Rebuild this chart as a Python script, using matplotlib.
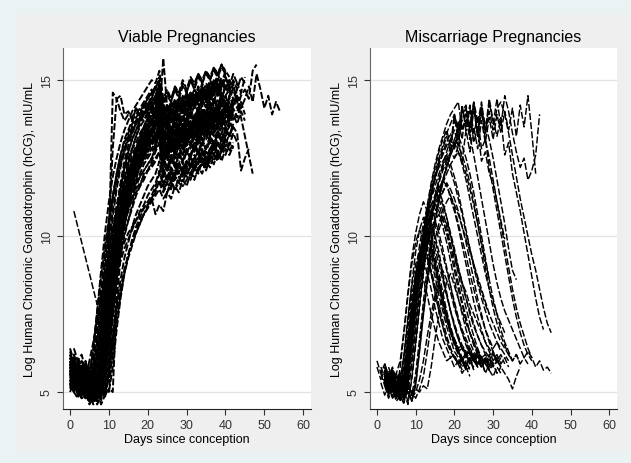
import numpy as np
import matplotlib.pyplot as plt
from matplotlib.patches import Rectangle

plt.rcParams['font.family'] = ['Liberation Sans', 'DejaVu Sans']
plt.rcParams['lines.scale_dashes'] = False

# log hCG values are stored in tenths, one value per day from the start day
viable_start = [0, 0, 1, 0, 2, 0, 1, 0, 3, 0, 1, 0, 2, 0, 1, 0, 0, 2, 0, 0, 1,
                0, 0, 2, 0, 1, 0, 0, 1, 0, 0, 2, 0, 0, 0, 1, 0, 0, 2, 0, 1, 0,
                0, 1, 0, 0, 2, 0, 0, 1, 0, 2,
                0, 1, 0, 0, 2, 0, 1, 0, 0, 1, 0, 0, 2, 0]
viable_hcg = [
    [57, 53, 55, 50, 54, 52, 49, 53, 56, 64, 77, 86, 95, 101, 108, 114, 117, 122, 124, 129, 131, 134, 137, 140, 131, 127, 132, 130, 128, 133, 131, 135, 132, 134, 138, 135, 137, 140, 139, 136, 141, 143, 140],
    [61, 58, 55, 57, 60, 54, 56, 53, 51, 55, 67, 80, 91, 99, 104, 111, 115, 118, 123, 125, 128, 133, 131, 138, 130, 134, 129, 131, 135, 133, 136, 134, 139, 137, 140, 138, 142, 144, 141, 146, 143],
    [54, 56, 51, 50, 53, 49, 55, 63, 71, 80, 90, 97, 104, 109, 112, 118, 121, 126, 125, 130, 133, 129, 134, 124, 127, 125, 130, 128, 126, 131, 129, 133, 130, 135, 134, 132, 137, 135, 138],
    [63, 59, 60, 56, 58, 55, 57, 52, 54, 53, 50, 64, 83, 95, 103, 110, 116, 119, 124, 126, 130, 133, 136, 139, 132, 128, 133, 136, 131, 135, 138, 134, 137, 140, 136, 139, 142, 140, 144, 141, 145, 147, 144],
    [55, 52, 50, 53, 58, 66, 74, 83, 90, 98, 103, 109, 114, 117, 121, 124, 127, 131, 129, 134, 137, 140, 132, 128, 131, 134, 130, 133, 136, 135, 132, 137, 139, 136, 140, 138, 141],
    [52, 55, 50, 48, 51, 47, 50, 49, 53, 60, 71, 80, 89, 95, 101, 105, 110, 114, 116, 120, 121, 124, 127, 130, 119, 122, 118, 121, 124, 120, 123, 126, 122, 125, 128, 124, 127, 130, 126, 129, 132],
    [64, 60, 62, 57, 59, 61, 55, 54, 57, 70, 83, 95, 104, 112, 118, 123, 128, 131, 135, 137, 140, 143, 147, 138, 136, 141, 139, 143, 140, 142, 145, 141, 144, 147, 143, 146, 149, 145, 148, 150],
    [56, 58, 54, 51, 55, 60, 66, 73, 80, 86, 92, 98, 102, 107, 110, 115, 118, 120, 124, 126, 128, 131, 133, 136, 127, 125, 129, 127, 131, 128, 133, 130, 132, 135, 131, 134, 137, 133, 136, 139],
    [53, 51, 54, 49, 52, 50, 59, 73, 85, 96, 102, 108, 113, 117, 121, 126, 128, 132, 134, 137, 139, 157, 141, 133, 136, 131, 134, 138, 135, 137, 140, 136, 139, 142, 138, 141, 144, 140, 143],
    [59, 56, 57, 52, 55, 53, 56, 50, 52, 49, 58, 73, 87, 97, 106, 112, 118, 122, 127, 130, 134, 136, 139, 142, 134, 131, 135, 132, 136, 134, 139, 135, 138, 141, 137, 140, 143, 139, 142, 145, 141, 144, 147, 143, 146],
    [51, 53, 49, 50, 46, 48, 52, 61, 71, 80, 87, 94, 100, 105, 109, 112, 116, 119, 121, 123, 125, 128, 130, 122, 118, 121, 119, 123, 120, 122, 125, 121, 124, 127, 123, 126, 129, 125, 128, 131, 127, 130],
    [62, 59, 57, 55, 58, 52, 54, 53, 57, 66, 78, 89, 98, 105, 112, 117, 122, 126, 130, 133, 136, 138, 141, 145, 137, 135, 139, 136, 140, 143, 139, 142, 145, 141, 144, 147, 143, 146, 149, 145, 148, 150, 147, 149, 146, 151],
    [56, 54, 57, 52, 51, 50, 54, 49, 51, 50, 79, 93, 103, 110, 116, 121, 125, 128, 131, 134, 136, 141, 130, 127, 131, 129, 133, 130, 134, 132, 136, 133, 137, 135, 139, 136, 140, 138, 142],
    [55, 53, 51, 54, 50, 52, 48, 50, 52, 61, 74, 85, 96, 104, 110, 115, 120, 123, 127, 130, 132, 135, 137, 140, 128, 131, 127, 130, 133, 129, 132, 135, 131, 134, 137, 133, 136, 139, 135, 138, 141, 137, 140],
    [59, 57, 55, 58, 53, 56, 54, 64, 76, 87, 96, 103, 109, 114, 119, 122, 126, 130, 132, 135, 138, 140, 144, 133, 131, 135, 133, 137, 134, 136, 139, 135, 138, 141, 137, 140, 143, 139, 142, 145, 141, 144, 147],
    [53, 50, 48, 52, 49, 47, 50, 57, 68, 79, 88, 95, 102, 108, 113, 117, 121, 124, 127, 130, 132, 134, 136, 140, 129, 127, 131, 128, 132, 130, 134, 131, 135, 133, 137, 134, 138, 136, 140, 137, 141],
    [57, 55, 53, 56, 52, 54, 50, 52, 51, 48, 57, 68, 78, 86, 93, 98, 103, 107, 110, 113, 116, 118, 120, 124, 116, 114, 118, 115, 119, 117, 121, 118, 122, 120, 124, 121, 125, 123, 127, 124, 128, 126, 129],
    [60, 56, 58, 54, 64, 76, 87, 97, 105, 112, 118, 123, 127, 131, 134, 137, 139, 142, 144, 146, 148, 143, 141, 145, 143, 147, 144, 148, 146, 150, 147, 151, 149, 152, 150, 153, 151, 154, 152],
    [54, 52, 55, 50, 51, 49, 52, 48, 51, 60, 73, 85, 95, 103, 109, 115, 119, 123, 126, 129, 132, 134, 137, 140, 130, 133, 129, 132, 135, 131, 134, 137, 133, 136, 139, 135, 138, 141, 137, 140, 143, 139, 142, 145, 141, 144, 148, 143, 152, 147, 141, 145, 139, 143, 140],
    [58, 54, 56, 53, 55, 51, 53, 50, 54, 63, 75, 86, 95, 103, 109, 114, 118, 122, 125, 128, 131, 133, 135, 139, 130, 128, 132, 129, 133, 131, 135, 132, 136, 134, 138, 135, 139, 137, 141, 138, 142, 140, 144, 141, 145, 147, 144, 153, 155],
    [53, 51, 50, 49, 52, 48, 51, 47, 58, 70, 81, 90, 98, 104, 109, 113, 117, 120, 123, 125, 127, 129, 133, 124, 121, 125, 122, 126, 123, 127, 125, 129, 126, 130, 128, 131, 129, 133, 130, 134, 132, 135, 133, 121, 125, 128],
    [61, 58, 59, 56, 57, 54, 55, 53, 56, 65, 77, 88, 98, 106, 113, 119, 124, 128, 132, 135, 138, 141, 143, 150, 141, 139, 143, 140, 144, 142, 146, 143, 147, 145, 149, 146, 150, 148, 152, 149, 153, 151],
    [52, 54, 51, 49, 52, 48, 49, 47, 50, 59, 71, 83, 93, 101, 108, 114, 119, 123, 127, 131, 134, 137, 139, 142, 131, 129, 133, 130, 134, 131, 135, 132, 136, 133, 137, 134, 138, 136, 140, 137, 141, 138, 142],
    [58, 55, 57, 53, 54, 61, 69, 76, 82, 87, 91, 95, 98, 101, 103, 105, 107, 109, 110, 112, 107, 110, 108, 114, 112, 116, 114, 118, 116, 120, 118, 122, 120, 124, 122, 126, 124, 128, 126, 130, 128],
    [57, 54, 56, 52, 53, 51, 52, 55, 58, 66, 98, 146, 144, 145, 139, 140, 137, 141, 138, 142, 140, 143, 141, 145, 135, 137, 134, 138, 135, 139, 136, 140, 137, 141],
    [60, 57, 59, 55, 56, 54, 62, 72, 84, 102, 128, 144, 140, 137, 139, 138, 141, 139, 142, 141, 144, 148, 137, 139, 136, 141, 138, 142, 140, 144, 141, 145, 143, 146, 144],
    [56, 53, 55, 51, 52, 50, 51, 49, 51, 60, 72, 83, 92, 99, 104, 108, 112, 115, 117, 119, 121, 122, 124, 127, 118, 117, 120, 118, 121, 119, 122, 120, 123, 121, 125, 122, 126, 124, 127, 125],
    [59, 56, 58, 54, 55, 52, 53, 51, 55, 66, 79, 91, 101, 110, 117, 123, 128, 132, 136, 139, 142, 145, 147, 151, 143, 146, 143, 148, 145, 149, 146, 150, 148, 152, 149, 153, 150, 154, 152, 155, 152],
    [57, 54, 55, 52, 53, 51, 52, 50, 55, 67, 81, 93, 102, 109, 115, 120, 124, 128, 131, 133, 136, 139, 131, 129, 133, 130, 134, 132, 136, 133, 137, 135, 139, 136, 140, 138, 142, 139, 143, 141, 145, 142, 146],
    [64, 60, 61, 58, 59, 56, 57, 66, 77, 87, 95, 102, 108, 113, 117, 121, 124, 127, 130, 132, 134, 137, 139, 144, 129, 132, 128, 131, 134, 130, 133, 136, 132, 135, 138, 134, 137, 140, 136, 139, 142, 138],
    [52, 50, 51, 48, 49, 47, 48, 46, 49, 58, 70, 81, 91, 99, 106, 112, 117, 121, 125, 128, 131, 133, 136, 139, 126, 124, 128, 125, 129, 126, 130, 128, 132, 129, 133, 131, 135, 132, 136, 133, 137, 135, 139, 136, 140, 137],
    [55, 52, 54, 51, 53, 50, 60, 72, 84, 94, 102, 109, 115, 120, 124, 128, 131, 134, 137, 139, 142, 146, 136, 134, 138, 135, 139, 137, 141, 138, 142, 140, 144, 141, 145, 143, 147, 144, 148, 145, 149, 143, 138, 132, 126, 120],
    [61, 58, 59, 56, 57, 55, 56, 53, 55, 52, 61, 76, 89, 100, 108, 115, 121, 126, 130, 133, 136, 139, 141, 145, 136, 134, 138, 135, 139, 137, 141, 138, 142, 140, 144, 141, 145, 143, 147, 144, 148, 146, 150, 147, 151, 149],
    [54, 51, 52, 49, 51, 48, 50, 47, 52, 63, 75, 86, 95, 102, 108, 113, 117, 120, 123, 126, 128, 130, 132, 136, 127, 125, 129, 126, 130, 128, 132, 129, 133, 131, 135, 132, 136, 134, 138, 135, 139, 137],
    [58, 61, 56, 57, 59, 55, 58, 62, 70, 79, 88, 96, 103, 109, 115, 119, 123, 127, 129, 132, 135, 137, 139, 142, 133, 136, 132, 135, 138, 134, 137, 140, 136, 139, 142, 138, 141, 144, 140, 143],
    [55, 53, 56, 52, 50, 53, 51, 56, 64, 75, 86, 95, 103, 109, 114, 119, 123, 126, 129, 131, 134, 136, 138, 128, 126, 130, 127, 131, 128, 132, 130, 128, 133, 131, 135, 132, 136, 134, 138, 135, 139, 137],
    [50, 53, 49, 51, 48, 50, 46, 49, 54, 63, 74, 84, 93, 100, 106, 111, 116, 119, 122, 125, 127, 130, 132, 134, 125, 122, 126, 123, 127, 124, 128, 126, 130, 127, 131, 128, 132, 130, 134, 131, 135, 132, 136],
    [60, 57, 58, 55, 56, 53, 54, 51, 50, 57, 71, 84, 95, 104, 111, 117, 122, 127, 131, 135, 138, 141, 144, 147, 139, 137, 141, 138, 142, 140, 144, 141, 145, 143, 147, 144, 148, 146, 150, 147, 151, 148, 152, 149],
    [57, 54, 55, 52, 53, 57, 65, 74, 83, 92, 100, 106, 112, 117, 121, 125, 128, 131, 134, 136, 138, 133, 131, 135, 132, 136, 134, 138, 135, 139, 137, 141, 138, 142, 140, 144, 141, 145, 142],
    [56, 53, 54, 52, 55, 51, 53, 52, 50, 53, 62, 76, 88, 98, 106, 112, 117, 121, 125, 128, 131, 134, 137, 140, 132, 129, 131, 127, 130, 133, 129, 132, 135, 131, 134, 137, 133, 136, 139, 135, 138, 141, 137, 140, 143, 139],
    [59, 56, 54, 57, 52, 55, 53, 60, 70, 81, 91, 99, 106, 112, 117, 122, 126, 129, 132, 135, 137, 139, 143, 134, 131, 133, 129, 132, 135, 131, 134, 137, 133, 136, 139, 135, 138, 141, 137],
    [53, 55, 52, 54, 50, 51, 49, 52, 58, 67, 78, 88, 96, 103, 109, 113, 117, 120, 122, 124, 126, 128, 130, 133, 121, 119, 122, 120, 123, 121, 124, 122, 125, 123, 127, 124, 128, 126, 130, 127, 131, 129, 133, 130],
    # fast risers
    [57, 53, 55, 51, 54, 50, 52, 60, 72, 86, 98, 108, 117, 123, 128, 132, 135, 137, 139, 141, 143, 142, 145, 148, 140, 142, 139, 143, 141, 144, 142, 145, 143, 146, 144, 147, 145, 148, 146, 149, 147, 150],
    [60, 56, 58, 54, 57, 53, 63, 76, 90, 102, 112, 120, 126, 131, 134, 137, 139, 141, 143, 145, 147, 144, 149, 139, 142, 140, 144, 141, 145, 143, 146, 144, 148, 145, 149, 147, 150, 148],
    [55, 51, 54, 50, 53, 49, 52, 50, 58, 71, 85, 98, 108, 116, 122, 127, 131, 134, 137, 139, 141, 143, 145, 147, 138, 141, 138, 142, 140, 143, 141, 144, 142, 146, 143, 147, 145, 148, 146, 150, 148],
    [62, 58, 60, 56, 59, 55, 64, 76, 89, 101, 111, 119, 125, 130, 134, 137, 140, 142, 144, 146, 148, 150, 149, 153, 144, 147, 144, 148, 146, 150, 147, 151, 149, 152, 150, 153, 151, 154, 152, 155, 153],
    [56, 52, 55, 51, 58, 69, 81, 93, 104, 113, 120, 126, 130, 133, 136, 138, 140, 142, 144, 146, 143, 139, 142, 140, 143, 141, 145, 143, 146, 144, 147, 145, 148, 146, 149],
    # slow risers
    [56, 52, 54, 50, 53, 49, 51, 48, 50, 49, 56, 66, 75, 83, 89, 94, 98, 102, 105, 107, 109, 111, 113, 115, 112, 114, 116, 115, 117, 116, 118, 120, 119, 121, 123, 122, 124, 126, 125, 127, 129, 128],
    [59, 55, 57, 53, 56, 52, 54, 50, 53, 51, 50, 58, 70, 80, 88, 94, 99, 103, 106, 109, 111, 113, 116, 120, 117, 119, 118, 121, 120, 122, 124, 123, 125, 127, 126, 128, 130, 129, 131, 133, 132, 134],
    [53, 50, 52, 48, 51, 47, 50, 46, 49, 57, 67, 76, 83, 89, 94, 98, 101, 104, 107, 109, 112, 114, 118, 115, 117, 116, 119, 118, 121, 120, 122, 124, 123, 125, 127, 126, 128, 130, 129, 131],
    [58, 54, 56, 52, 55, 51, 53, 56, 63, 70, 77, 83, 88, 92, 96, 99, 102, 105, 108, 110, 113, 115, 117, 121, 116, 119, 117, 120, 122, 121, 124, 123, 125, 127, 126, 129, 128, 130, 132, 131, 133, 135, 134],
    [55, 51, 54, 50, 53, 49, 52, 50, 54, 62, 72, 81, 88, 93, 97, 101, 104, 107, 110, 112, 115, 117, 114, 117, 115, 119, 117, 121, 119, 123, 121, 125, 123, 127, 125, 129, 127, 131, 129, 133, 131],
    # more central series
    [55, 57, 52, 54, 51, 56, 53, 58, 68, 80, 92, 102, 110, 116, 121, 125, 128, 130, 133, 135, 134, 138, 136, 141, 133, 135, 131, 134, 132, 136, 134, 133, 137, 135, 138, 136, 140, 138, 141, 139, 142],
    [58, 55, 53, 56, 51, 54, 57, 65, 76, 88, 99, 107, 114, 119, 122, 126, 129, 127, 131, 133, 130, 135, 137, 129, 127, 131, 128, 130, 133, 131, 129, 134, 132, 136, 133, 137, 135, 139, 136, 140, 138],
    [53, 50, 54, 51, 49, 52, 50, 53, 60, 70, 82, 93, 102, 109, 114, 118, 120, 124, 122, 127, 129, 131, 128, 134, 124, 126, 123, 127, 125, 128, 126, 130, 127, 131, 129, 133, 130, 134, 132, 135, 133, 137, 134],
    [60, 56, 59, 55, 57, 54, 61, 71, 83, 95, 105, 113, 119, 124, 128, 131, 134, 136, 138, 137, 140, 142, 141, 146, 137, 139, 136, 140, 138, 142, 139, 143, 141, 145, 142, 146, 144, 148, 145, 149, 147, 150, 148],
    [54, 57, 52, 55, 50, 53, 51, 62, 75, 88, 98, 106, 112, 117, 121, 124, 128, 126, 130, 133, 131, 136, 130, 132, 128, 131, 134, 130, 133, 136, 132, 135, 138, 134, 137, 140, 136, 139, 142, 138, 141],
    [57, 54, 52, 55, 51, 53, 49, 51, 55, 65, 78, 90, 100, 108, 114, 119, 123, 126, 129, 131, 133, 132, 136, 139, 129, 133, 130, 128, 132, 135, 131, 134, 137, 133, 136, 139, 135, 138, 141, 137, 140, 143],
    [62, 58, 60, 56, 58, 54, 59, 69, 81, 94, 106, 115, 122, 127, 131, 133, 136, 138, 140, 139, 142, 144, 140, 137, 141, 139, 143, 141, 144, 142, 146, 143, 147, 145, 148, 146, 150, 147, 151],
    [51, 54, 50, 52, 48, 50, 47, 50, 48, 55, 66, 78, 89, 98, 105, 111, 115, 119, 122, 125, 127, 129, 131, 133, 123, 121, 125, 122, 126, 124, 127, 125, 129, 126, 130, 128, 132, 129, 133, 131, 134, 132, 136],
    [56, 53, 55, 52, 54, 50, 52, 57, 66, 77, 88, 98, 106, 112, 117, 120, 124, 127, 126, 130, 132, 134, 136, 138, 128, 130, 127, 131, 129, 133, 130, 134, 132, 136, 133, 137, 135, 139, 136, 140],
    [55, 52, 54, 50, 53, 49, 51, 54, 62, 73, 85, 96, 105, 111, 116, 120, 123, 126, 128, 130, 133, 135, 138, 127, 125, 129, 126, 130, 128, 132, 129, 133, 131, 135, 132, 136, 134, 138, 135, 139, 137, 141, 138, 142],
    [59, 62, 57, 58, 55, 57, 53, 55, 58, 68, 82, 95, 106, 115, 122, 127, 131, 134, 137, 139, 141, 143, 142, 147, 138, 141, 137, 140, 143, 139, 142, 145, 141, 144, 147, 143, 146, 149, 145, 148, 151, 147, 150],
    [54, 51, 53, 50, 52, 48, 50, 48, 52, 58, 67, 77, 86, 94, 100, 105, 109, 113, 116, 118, 121, 123, 125, 127, 120, 118, 122, 119, 123, 121, 124, 122, 126, 123, 127, 125, 128, 126, 130, 127, 131, 129],
    [57, 54, 56, 52, 55, 51, 56, 67, 80, 92, 103, 111, 118, 124, 128, 132, 135, 137, 139, 141, 143, 139, 144, 136, 140, 137, 141, 139, 143, 140, 144, 142, 146, 143, 147, 145, 149, 146],
    [58, 55, 57, 54, 56, 52, 55, 51, 57, 69, 83, 97, 108, 117, 124, 129, 133, 136, 138, 140, 142, 144, 143, 148, 140, 138, 142, 139, 143, 141, 145, 142, 146, 144, 148, 145, 149, 147, 151, 148, 152],
]
# one viable series measured only on a few days
viable_sparse_days = [1, 7, 9, 11, 13, 15, 17, 19, 21, 23, 25, 27, 29, 31, 33, 35, 37]
viable_sparse_hcg = [108, 78, 84, 96, 105, 112, 117, 121, 125, 132, 121, 125, 128, 130, 133, 135, 138]

miscarriage_start = [2, 3, 2, 2, 1, 2, 3, 2, 0, 2, 2, 3, 2, 2, 1, 2, 2, 3, 2, 2, 2, 2,
                     3, 2, 2, 2, 2, 2, 3, 2, 2, 2, 0, 2, 3, 2, 2, 2, 2, 2, 2, 1, 2,
                     2, 1, 2]
miscarriage_hcg = [
    [57, 53, 56, 52, 54, 62, 74, 84, 91, 95, 97, 93, 88, 82, 76, 71, 67, 64, 61, 59, 60, 57, 58],
    [54, 50, 53, 51, 60, 71, 81, 88, 94, 99, 101, 96, 90, 84, 78, 73, 69, 66, 63, 61, 62, 59, 60, 58],
    [59, 55, 58, 54, 56, 53, 63, 75, 85, 92, 96, 98, 94, 89, 84, 78, 73, 69, 66, 63, 64, 61, 63, 60, 62, 59],
    [53, 49, 52, 48, 51, 58, 68, 77, 84, 89, 92, 88, 83, 77, 72, 67, 64, 61, 62, 59, 61, 58],
    [56, 52, 55, 51, 53, 50, 56, 67, 78, 87, 94, 99, 102, 97, 92, 86, 80, 75, 70, 67, 64, 65, 62, 64, 61, 63, 60],
    [55, 51, 54, 50, 53, 49, 60, 72, 83, 91, 97, 101, 104, 100, 95, 88, 82, 76, 71, 67, 64, 62, 63, 60, 62, 58, 61, 57, 59],
    [52, 49, 51, 48, 57, 67, 77, 85, 90, 86, 81, 75, 70, 66, 63, 60, 61, 58, 60, 57],
    [58, 54, 57, 53, 55, 52, 58, 70, 81, 89, 95, 99, 96, 91, 85, 79, 74, 70, 66, 63, 60, 62, 59, 61, 58, 60, 56],
    [58, 54, 56, 52, 55, 51, 53, 50, 57, 68, 79, 88, 95, 100, 103, 105, 101, 96, 90, 84, 78, 73, 69, 65, 62, 60, 62, 59, 61, 58, 63, 60],
    [55, 51, 53, 49, 52, 50, 55, 65, 76, 86, 93, 98, 102, 105, 107, 103, 98, 92, 86, 80, 75, 70, 66, 63, 61, 58, 60, 57, 59, 56, 58],
    [53, 50, 52, 49, 51, 48, 57, 69, 81, 91, 99, 105, 110, 113, 116, 114, 117, 112, 108, 103, 97, 91, 85, 79, 74, 70, 66, 63, 60, 62, 59, 61, 58],
    [56, 52, 55, 51, 53, 61, 73, 85, 94, 101, 106, 110, 112, 115, 111, 106, 100, 94, 88, 82, 77, 72, 68, 64, 61, 59, 62, 58, 60],
    [55, 51, 54, 50, 52, 49, 54, 64, 76, 87, 96, 103, 108, 112, 115, 118, 116, 113, 109, 104, 99, 94, 88, 83, 78, 74, 70, 67, 64, 66, 63],
    [58, 54, 57, 52, 55, 51, 56, 68, 80, 90, 98, 104, 108, 111, 113, 110, 106, 101, 96, 90, 85, 80, 76, 72, 68, 65, 62, 60, 63, 59, 61],
    [53, 49, 52, 48, 50, 47, 55, 66, 77, 86, 93, 99, 103, 107, 110, 112, 114, 117, 115, 112, 108, 103, 98, 92, 86, 80, 75, 70, 66, 63, 60, 62, 59],
    [55, 51, 53, 49, 52, 48, 52, 62, 73, 83, 92, 99, 105, 110, 114, 117, 120, 123, 125, 127, 124, 120, 115, 110, 104, 98, 92, 86, 80, 75, 70, 66, 63, 60, 62, 59],
    [57, 53, 55, 51, 54, 50, 59, 71, 82, 92, 100, 107, 112, 116, 120, 123, 126, 128, 130, 127, 123, 118, 112, 106, 100, 94, 88, 83, 79, 75, 72, 69],
    [52, 48, 51, 47, 50, 46, 55, 66, 78, 89, 98, 106, 112, 117, 121, 124, 127, 125, 129, 126, 122, 117, 111, 104, 97, 90, 83, 77, 72, 68, 65, 62, 60],
    [56, 52, 54, 50, 53, 49, 51, 59, 70, 81, 91, 100, 107, 113, 118, 122, 125, 121, 117, 112, 107, 101, 96, 91, 86, 82, 78, 75],
    [57, 53, 56, 52, 54, 50, 56, 68, 80, 91, 100, 108, 114, 119, 123, 126, 129, 131, 128, 132, 129, 125, 120, 114, 107, 100, 93, 86],
    [54, 51, 53, 49, 52, 48, 55, 66, 78, 89, 99, 107, 114, 120, 125, 129, 133, 136, 139, 134, 141, 136, 142, 133, 138, 128, 131, 122, 115, 108, 101, 94, 87, 80, 74, 69, 65, 62, 60],
    [56, 52, 55, 51, 53, 50, 57, 69, 81, 92, 101, 109, 116, 122, 127, 131, 134, 129, 139, 133, 140, 142, 135, 143, 137, 140, 131, 125, 118, 111, 104, 97, 90, 83, 77, 72, 68, 64, 61],
    [54, 50, 52, 49, 51, 47, 54, 65, 77, 88, 97, 105, 112, 118, 123, 127, 131, 134, 129, 139, 141, 133, 141, 136, 143, 134, 144, 137, 132, 138, 126, 130, 120, 114, 108, 101, 94, 87, 80, 74, 70],
    [57, 53, 55, 51, 54, 50, 52, 49, 53, 64, 76, 87, 97, 105, 112, 118, 123, 127, 131, 134, 137, 139, 131, 140, 134, 142, 133, 143, 136, 144, 135, 145, 140, 133, 127, 122, 125, 118, 121, 126, 139],
    [58, 54, 57, 52, 55, 51, 58, 70, 82, 93, 102, 110, 117, 123, 128, 132, 136, 139, 141, 143, 134, 137, 132, 126, 119, 112, 105, 98, 91, 85, 80, 76, 73, 70, 67, 64, 61, 59],
    [54, 50, 53, 49, 51, 48, 50, 47, 52, 63, 75, 86, 96, 104, 111, 117, 122, 126, 129, 132, 135, 137, 139, 141, 132, 140, 133, 140, 134, 141, 143, 139, 133, 126, 119, 112, 106, 100, 94, 89, 83, 77, 72, 69],
    [57, 53, 56, 52, 54, 50, 53, 49, 56, 67, 79, 90, 99, 107, 113, 118, 122, 126, 129, 132, 124, 134, 127, 135, 128, 137, 130, 138, 131, 139, 133, 140, 134, 141, 132, 142, 135, 145, 133, 120],
    [56, 52, 54, 51, 53, 49, 52, 50, 48, 51, 55, 63, 72, 79, 84, 80, 75, 70, 66, 63, 60, 58, 61, 57],
    [54, 51, 53, 49, 52, 50, 48, 50, 54, 60, 68, 75, 81, 86, 89, 86, 82, 77, 73, 69, 66, 63, 61, 58, 60, 56, 59],
    [57, 53, 55, 52, 54, 50, 53, 49, 51, 50, 52, 51, 58, 67, 75, 81, 85, 88, 84, 80, 76, 72, 69, 66, 63, 61, 59, 57, 55, 58, 56],
    [56, 52, 55, 51, 53, 50, 56, 67, 79, 89, 97, 103, 107, 110, 108, 105, 101, 97, 93, 89, 85, 82, 78, 75, 72, 69, 66, 64, 62, 60, 58, 56, 54, 51, 55, 58],
    [55, 51, 53, 50, 52, 48, 51, 47, 53, 64, 75, 85, 93, 99, 104, 108, 111, 113, 110, 107, 103, 99, 95, 91, 87, 83, 79, 75, 72, 69, 66, 64, 62, 60, 62, 59, 61, 63, 61, 58, 60, 57, 58, 56],
    [60, 56, 59, 55, 57, 54, 56, 52, 61, 73, 84, 93, 99, 103, 99, 94, 88, 82, 76, 71, 67, 64, 61, 59, 61, 58],
    [52, 48, 51, 47, 49, 46, 58, 70, 80, 87, 91, 93, 89, 84, 78, 73, 68, 64, 61, 59, 56, 58, 55],
    [58, 54, 56, 52, 55, 63, 75, 86, 94, 100, 103, 106, 103, 99, 94, 89, 84, 79, 74, 70, 67, 64, 62, 60, 58, 61, 57],
    [54, 51, 53, 49, 52, 48, 50, 59, 70, 81, 90, 97, 101, 104, 102, 106, 104, 100, 95, 90, 85, 80, 75, 71, 68, 65, 63, 61, 59, 61, 58],
    [54, 50, 53, 49, 51, 56, 66, 77, 88, 97, 104, 109, 113, 115, 112, 108, 103, 97, 91, 85, 79, 74, 69, 65, 62, 60, 61, 58, 60],
    [56, 52, 55, 51, 53, 49, 57, 68, 80, 91, 100, 108, 114, 119, 122, 124, 126, 123, 119, 114, 108, 102, 96, 90, 85, 80, 76, 72, 69, 66, 64, 62, 60],
    [55, 51, 53, 49, 52, 48, 54, 65, 77, 88, 98, 106, 113, 119, 124, 128, 132, 127, 138, 131, 142, 134, 141, 130, 135, 124, 127, 120, 117, 111, 105, 99],
    [55, 51, 54, 50, 52, 49, 55, 66, 78, 89, 98, 106, 113, 118, 123, 127, 130, 133, 128, 137, 131, 141, 134, 143, 132, 140, 136, 131, 125, 118, 111, 104, 96, 89, 86],
    [59, 55, 57, 53, 56, 52, 60, 70, 80, 88, 93, 96, 92, 87, 81, 76, 71, 67, 63, 61, 58, 60, 57],
    [57, 53, 56, 52, 54, 51, 53, 62, 74, 85, 93, 99, 103, 100, 96, 91, 86, 81, 76, 72, 68, 65, 63, 60, 62, 59, 61],
    [53, 50, 52, 48, 51, 47, 58, 69, 80, 89, 96, 101, 105, 108, 110, 106, 101, 95, 89, 83, 78, 73, 69, 66, 63, 61, 62, 59],
    [56, 53, 55, 51, 54, 62, 73, 85, 95, 102, 106, 103, 98, 92, 86, 80, 74, 69, 65, 62, 60, 58, 61, 57],
    [58, 55, 57, 53, 56, 60, 70, 82, 93, 101, 107, 111, 108, 104, 99, 93, 87, 81, 76, 71, 67, 64, 62, 60, 62, 59],
    [55, 52, 54, 50, 58, 69, 81, 91, 98, 102, 99, 94, 88, 82, 76, 71, 66, 63, 61, 59, 60, 57],
]
assert len(viable_start) == len(viable_hcg)
assert len(miscarriage_start) == len(miscarriage_hcg)

panel_titles = ['Viable Pregnancies', 'Miscarriage Pregnancies']
x_ticks = [0, 10, 20, 30, 40, 50, 60]
y_ticks = [5, 10, 15]
y_label = 'Log Human Chorionic Gonadotrophin (hCG), mIU/mL'
x_label = 'Days since conception'

W, H = 631, 464
fig = plt.figure(figsize=(W / 100, H / 100), dpi=100)
fig.patch.set_facecolor('#eaf2f3')
fig.add_artist(Rectangle((16 / W, 12 / H), 615 / W, 436 / H, transform=fig.transFigure,
                         facecolor='#efefef', edgecolor='none', zorder=0))

ax1 = fig.add_axes([63 / W, 54 / H, 248 / W, 361 / H])
ax2 = fig.add_axes([370 / W, 54 / H, 247 / W, 361 / H])


def draw_lines(ax, starts, series, lw):
    for s, vals in zip(starts, series):
        days = np.arange(s, s + len(vals))
        ax.plot(days, np.array(vals) / 10, color='black', lw=lw, dashes=(5, 1.6))


# the viable panel is a dense mass in the original, so its lines are drawn a little heavier
draw_lines(ax1, viable_start, viable_hcg, 1.4)
ax1.plot(viable_sparse_days, np.array(viable_sparse_hcg) / 10, color='black', lw=1.1, dashes=(5, 1.6))
draw_lines(ax2, miscarriage_start, miscarriage_hcg, 1.05)

for ax, title in zip([ax1, ax2], panel_titles):
    ax.set_facecolor('white')
    ax.set_xlim(-1.8, 62)
    ax.set_ylim(4.455, 16.03)
    ax.set_xticks(x_ticks)
    ax.set_yticks(y_ticks)
    ax.set_yticklabels([str(v) for v in y_ticks], rotation=90, va='center')
    ax.set_axisbelow(True)
    ax.grid(axis='y', color='#e2e2e2', lw=0.9)
    for side in ['top', 'right']:
        ax.spines[side].set_visible(False)
    ax.spines['left'].set_color('#666666')
    ax.spines['bottom'].set_color('#222222')
    ax.tick_params(labelsize=9, length=4, colors='#333333')
    ax.set_title(title, fontsize=11.5, pad=5)
    ax.set_xlabel(x_label, fontsize=9, labelpad=1)
    ax.set_ylabel(y_label, fontsize=9, labelpad=3)

fig.savefig('out.png', dpi=100, facecolor=fig.get_facecolor())
